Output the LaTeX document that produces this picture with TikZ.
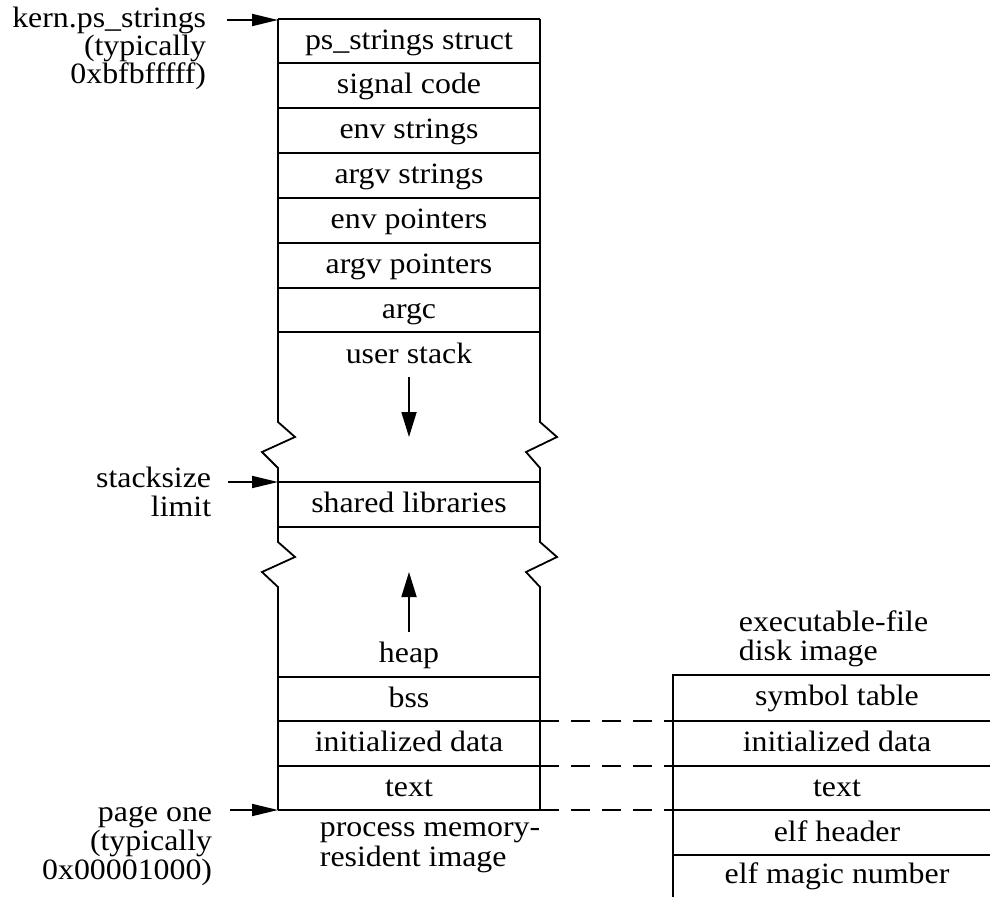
\documentclass[tikz,border=0pt]{standalone}
\usepackage{fontspec}
\setmainfont[FakeStretch=1.08]{Liberation Serif}
\usetikzlibrary{arrows.meta}
\begin{document}
\begin{tikzpicture}[x=1pt,y=-1pt,line width=1.8pt,
  lbl/.style={inner sep=0pt,font=\fontsize{29.5}{27}\selectfont},
  cell/.style={lbl,anchor=base},
  rlbl/.style={lbl,anchor=base east},
  llbl/.style={lbl,anchor=base west},
  ptr/.style={-{Triangle[length=26pt,width=12pt]}},
  growarrow/.style={-{Triangle[length=25pt,width=15pt]}},
  link/.style={dash pattern=on 19pt off 12pt}]
\useasboundingbox (0,0) rectangle (990,897);

% ---- process memory column ----
\draw (278,19) -- (540,19);
\foreach \yy in {63,108,153,198,243,288,332,482,527,677,721,766,810}
  \draw (278,\yy) -- (540,\yy);
\draw (278,19) -- (278,422) -- (295,437) -- (262,452) -- (278,468) -- (278,542)
      -- (295,557) -- (262,572) -- (278,587) -- (278,810);
\draw (540,19) -- (540,422) -- (557,437) -- (526,452) -- (540,468) -- (540,542)
      -- (557,557) -- (526,572) -- (540,587) -- (540,810);

\node[cell] (pss)  at (409,49)    {ps\_strings struct};
\node[cell] (sig)  at (409,93.5)  {signal code};
\node[cell] (envs) at (409,138.5) {env strings};
\node[cell] (args) at (409,183.5) {argv strings};
\node[cell] (envp) at (409,228.5) {env pointers};
\node[cell] (argp) at (409,273.5) {argv pointers};
\node[cell] (argc) at (409,318)   {argc};
\node[cell] (ustk) at (409,363)   {user stack};
\node[cell] (shl)  at (409,512.5) {shared libraries};
\node[cell] (heap) at (409,662)   {heap};
\node[cell] (bss)  at (409,707)   {bss};
\node[cell] (idat) at (409,751.5) {initialized data};
\node[cell] (txt)  at (409,796)   {text};

\coordinate (sdA) at (409,377);
\coordinate (sdB) at (409,437);
\draw[growarrow] (sdA) -- (sdB);
\coordinate (huA) at (409,632);
\coordinate (huB) at (409,572);
\draw[growarrow] (huA) -- (huB);

% ---- left labels and pointers ----
\node[rlbl] (k1) at (207,27)   {kern.ps\_strings};
\node[rlbl] (k2) at (207,55)   {(typically};
\node[rlbl] (k3) at (207,83)   {0xbfbfffff)};
\coordinate (kS) at (227,20);
\coordinate (kE) at (278,20);
\draw[ptr] (kS) -- (kE);

\node[rlbl] (s1) at (212,487) {stacksize};
\node[rlbl] (s2) at (212,516) {limit};
\coordinate (sS) at (228,482);
\coordinate (sE) at (278,482);
\draw[ptr] (sS) -- (sE);

\node[rlbl] (p1) at (213,821) {page one};
\node[rlbl] (p2) at (213,850) {(typically};
\node[rlbl] (p3) at (213,879) {0x00001000)};
\coordinate (pS) at (230,810);
\coordinate (pE) at (278,810);
\draw[ptr] (pS) -- (pE);

\node[llbl] (m1) at (319,836) {process memory-};
\node[llbl] (m2) at (319,866) {resident image};

% ---- executable file ----
\node[llbl] (e1) at (738,631) {executable-file};
\node[llbl] (e2) at (738,660) {disk image};
\draw (990,675) -- (673,675) -- (673,897);
\foreach \yy in {721,766,810,855}
  \draw (673,\yy) -- (990,\yy);
\node[cell] (sym)  at (837,705)   {symbol table};
\node[cell] (fid)  at (837,751)   {initialized data};
\node[cell] (ftx)  at (837,796)   {text};
\node[cell] (elfh) at (837,841)   {elf header};
\node[cell] (elfm) at (837,883)   {elf magic number};

\coordinate (d1a) at (540,721); \coordinate (d1b) at (673,721);
\coordinate (d2a) at (540,766); \coordinate (d2b) at (673,766);
\coordinate (d3a) at (540,810); \coordinate (d3b) at (673,810);
\draw[link] (d1a) -- (d1b);
\draw[link] (d2a) -- (d2b);
\draw[link] (d3a) -- (d3b);
\end{tikzpicture}
\end{document}
